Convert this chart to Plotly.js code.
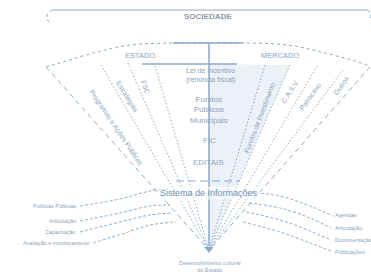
<!DOCTYPE html>
<html><head><meta charset="utf-8">
<script src="https://cdn.plot.ly/plotly-3.0.1.min.js"></script>
<style>html,body{margin:0;padding:0;background:#fff;}#c{width:371px;height:272px;}</style>
</head><body><div id="c"></div>
<script>
// ---- text content ----
const titleTop = 'SOCIEDADE';
const sectorHeads = ['ESTADO', 'MERCADO'];
const stateLabels = ['Programas e Ações Públicas', 'Estratégias', 'FSC'];
const marketLabels = ['Fundos de Investimento', 'C.A.S.V', 'Patrocínio', 'Outros'];
const centerLabels = ['Lei de Incentivo<br>(renúncia fiscal)', 'Fundos<br>Públicos<br>Municipais', 'FIC', 'EDITAIS'];
const hubLabel = 'Sistema de Informações';
const leftOutputs = ['Políticas Públicas', 'Articulação', 'Capacitação', 'Avaliação e monitoramento'];
const rightOutputs = ['Agendas', 'Articulação', 'Documentação', 'Publicações'];
const baseLabel = 'Desenvolvimento cultural<br>do Estado';

// ---- diagram geometry (diagram units = page pixels) ----
const apex = [209, 250];
const arcX = [46, 63, 97, 130, 170, 209, 248, 288, 321, 355, 370];
const arcY = [67, 62, 52, 45, 43, 42.5, 43, 45, 52, 61, 66];
const outerTops = [[46, 67], [370, 67]];
const innerTops = [[101, 65], [128, 63], [155, 66], [265, 65], [290, 65], [317, 66], [343, 70]];
const leftCurves = [
  [[80, 206], [120, 199], [150, 191], [166, 189]],
  [[80, 221], [120, 213], [150, 206], [170, 205]],
  [[80, 232], [120, 222], [150, 215], [173, 213]],
  [[93, 243], [125, 233], [150, 225], [176, 222]]
];
const rightCurves = [
  [[246, 192], [280, 196], [310, 206], [333, 216]],
  [[249, 203], [280, 208], [310, 218], [331, 228]],
  [[246, 212], [280, 220], [310, 231], [331, 240]],
  [[243, 222], [280, 232], [310, 243], [331, 251]]
];
const statePos = [[116, 128, 56], [127, 97, 58], [146, 87, 70]];
const marketPos = [[259, 118, -69], [289, 92, -57], [310, 96, -54], [341, 85, -56]];
const centerPos = [[210, 75], [209, 110], [209, 140], [208, 162]];
const leftOutPos = [206, 221, 232, 243];
const rightOutPos = [215, 228, 240, 252];

const LC = '#8aaac8', TC = '#8aa3bb', DC = '#6a8db0';
const traces = [];
function seg(xs, ys, dash, w, col, shape) {
  traces.push({x: xs, y: ys, mode: 'lines', hoverinfo: 'skip',
    line: {color: col || LC, width: w || 1, dash: dash || 'solid', shape: shape || 'linear'}});
}
// shaded market-side trunk
traces.push({x: [apex[0], innerTops[4][0], apex[0], apex[0]], y: [64, innerTops[4][1], apex[1], 64],
  fill: 'toself', fillcolor: '#ebf1f7', mode: 'lines', line: {width: 0}, hoverinfo: 'skip'});
// society box
seg([52, 368], [10, 10], 'solid', 1.2);
seg([52, 48, 47, 49], [10, 13, 18, 22], 'dot', 1, LC, 'spline');
seg([368, 370, 371], [10, 13, 20], 'dot', 1, LC, 'spline');
// top arc
seg(arcX, arcY, '3px,3px', 1, LC, 'spline');
// outer fan edges
outerTops.forEach(p => seg([p[0], apex[0]], [p[1], apex[1]], '5px,4px', 1));
// inner dividers
innerTops.forEach(p => seg([p[0], apex[0]], [p[1], apex[1]], '1.5px,2px', 1));
// trunk lines
seg([173, 242], [43, 43], 'solid', 1.5);
seg([142, 237], [64, 64], 'solid', 1.5);
seg([209, 209], [43, 246], 'solid', 1.5);
seg([176, 240], [181, 181], '8px,4px', 1);
// output curves
leftCurves.concat(rightCurves).forEach(c => seg(c.map(p => p[0]), c.map(p => p[1]), '3px,2px', 1, LC, 'spline'));
// arrow head
traces.push({x: [apex[0]], y: [apex[1] - 1], mode: 'markers', hoverinfo: 'skip',
  marker: {symbol: 'triangle-down', size: 8, color: LC}});

const F = 'Liberation Sans, Arial, sans-serif';
const ann = [];
function txt(x, y, t, size, col, angle, xa, extra) {
  ann.push(Object.assign({x: x, y: y, text: t, showarrow: false, textangle: angle || 0,
    xanchor: xa || 'center', yanchor: 'middle', font: {family: F, size: size, color: col || TC}}, extra || {}));
}
txt(208, 16, '<b>' + titleTop + '</b>', 8, '#8b9aa8');
txt(140, 55, sectorHeads[0], 7.5);
txt(280, 55, sectorHeads[1], 7.5);
stateLabels.forEach((t, i) => txt(statePos[i][0], statePos[i][1], t, 7, TC, statePos[i][2]));
marketLabels.forEach((t, i) => txt(marketPos[i][0], marketPos[i][1], t, 7, TC, marketPos[i][2]));
centerLabels.forEach((t, i) => txt(centerPos[i][0], centerPos[i][1], t, i === 0 ? 7 : 8, TC));
txt(209, 193, hubLabel, 9, DC, 0, 'center', {bgcolor: 'rgba(255,255,255,0.6)'});
leftOutputs.forEach((t, i) => txt(78 + (i === 3 ? 14 : 0), leftOutPos[i], t, 5.5, TC, 0, 'right'));
rightOutputs.forEach((t, i) => txt(333, rightOutPos[i], t, 5.5, TC, 0, 'left'));
txt(209, 266, baseLabel, 5.5, TC);

Plotly.newPlot('c', traces, {
  width: 371, height: 272, margin: {l: 0, r: 0, t: 0, b: 0},
  paper_bgcolor: '#fff', plot_bgcolor: '#fff', showlegend: false,
  xaxis: {range: [0, 371], visible: false, fixedrange: true},
  yaxis: {range: [272, 0], visible: false, fixedrange: true},
  annotations: ann
}, {staticPlot: true, displayModeBar: false});
</script></body></html>
